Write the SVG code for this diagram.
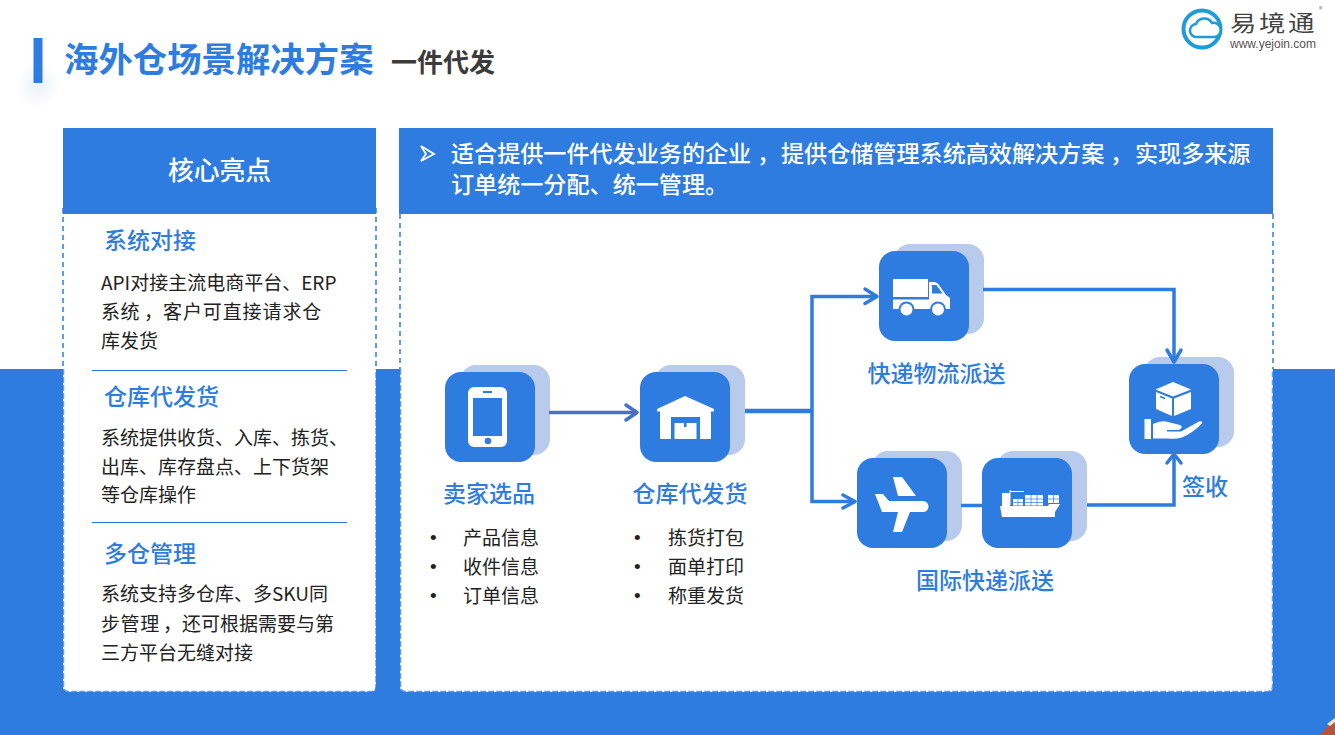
<svg xmlns="http://www.w3.org/2000/svg" width="1335" height="735" viewBox="0 0 1335 735">
<defs>
<style>
text{font-family:"Noto Sans CJK SC","Noto Sans",sans-serif}
.b{fill:#2e7ce0}
.bk{fill:#b8cbec}
.w{fill:#fff}
.h{font-size:23px;font-weight:500;fill:#2e7ce0}
.t{font-size:19px;fill:#222}
.bu{font-size:19px;fill:#222;font-family:"Liberation Sans",sans-serif}
.hd{font-size:23.1px;fill:#fff;font-weight:500}
.cn{fill:none;stroke:#2e7ce0;stroke-width:3.5;stroke-linejoin:miter}
.ah{fill:none;stroke:#2e7ce0;stroke-width:3.5;stroke-linecap:round;stroke-linejoin:round}
.dash{fill:none;stroke:#2e7ce0;stroke-width:1.5;stroke-dasharray:5 4}
.wd{fill:none;stroke:#2e7ce0;stroke-width:1.5;stroke-dasharray:6 2;opacity:.75}
.gl{stroke:#2e7ce0;stroke-width:.7;fill:none}
</style>
<g id="tile"><rect x="15" y="-7" width="90" height="90" rx="16" class="bk"/><rect width="90" height="90" rx="16" class="b"/></g>
<radialGradient id="gl"><stop offset="0" stop-color="#eef1fa"/><stop offset="1" stop-color="#fff"/></radialGradient>
</defs>
<rect width="1335" height="735" fill="#fff"/>
<rect y="369" width="1335" height="366" class="b"/>
<g id="title">
<ellipse cx="38" cy="85" rx="22" ry="24" fill="url(#gl)"/>
<rect x="33.500" y="38" width="9" height="45" class="b"/>
<text x="64" y="71.500" font-size="34.400" font-weight="700" style="fill:#2e7ce0">海外仓场景解决方案</text>
<text x="391" y="72" font-size="26" font-weight="700" fill="#3b3b3b">一件代发</text>
</g>
<g id="logo">
<circle cx="1202" cy="29" r="18.500" fill="none" stroke="#1f9bd7" stroke-width="4"/>
<path d="M1197 37a6.500 6.500 0 0 1-1-13 9 9 0 0 1 16-1 7 7 0 0 1 3 14z" fill="#fff" stroke="#1f9bd7" stroke-width="2.500"/>
<text transform="translate(1230 31) scale(1.2 1)" font-size="22" letter-spacing="2.200" fill="#444">易境通</text>
<text x="1230" y="48" font-size="12" fill="#555" style="font-family:'Liberation Sans',sans-serif">www.yejoin.com</text>
<text x="1319" y="12" font-size="7" fill="#666">®</text>
</g>
<g id="left-panel">
<rect x="63" y="205" width="313" height="487" rx="5" class="w"/>
<path d="M63 208V369M376 208V369" class="dash"/>
<path d="M63.500 369V686q0 5.500 5 5.500H371q5 0 5-5.500V369" class="wd"/>
<rect x="63" y="128" width="313" height="86" class="b"/>
<text x="219.500" y="179.500" text-anchor="middle" class="hd" style="font-size:25.800px">核心亮点</text>
<text x="104" y="249" class="h">系统对接</text>
<text x="101" y="290" class="t">API对接主流电商平台、ERP</text>
<text x="101" y="319" class="t"><tspan letter-spacing=".5">系统</tspan><tspan x="144">，</tspan><tspan x="163" letter-spacing=".9">客户可直接请求仓</tspan></text>
<text x="101" y="348" class="t">库发货</text>
<path d="M92 370.500H347" stroke="#2e7ce0" stroke-width="1.200"/>
<text x="104" y="404.500" class="h">仓库代发货</text>
<text x="101" y="445" class="t">系统提供收货、入库、拣货、</text>
<text x="101" y="474" class="t">出库、库存盘点、上下货架</text>
<text x="101" y="502" class="t">等仓库操作</text>
<path d="M92 522.500H347" stroke="#2e7ce0" stroke-width="1.200"/>
<text x="104" y="561.500" class="h">多仓管理</text>
<text x="101" y="601" class="t">系统支持多仓库、多SKU同</text>
<text x="101" y="631" class="t"><tspan letter-spacing=".6">步管理</tspan><tspan x="163">，</tspan><tspan x="182">还可根据需要与第</tspan></text>
<text x="101" y="660" class="t">三方平台无缝对接</text>
</g>
<g id="right-panel">
<rect x="400" y="205" width="873" height="487" rx="5" class="w"/>
<path d="M400 214V369M1273 214V369" class="dash"/>
<path d="M400.500 369V686q0 5.500 5 5.500H1267q5.500 0 5.500-5.500V369" class="wd"/>
<rect x="399" y="128" width="874" height="86" class="b"/>
<path d="M421 146l13 8-13 7 5-7z" fill="#2e7ce0" stroke="#fff" stroke-width="1.800"/>
<text x="451" y="161.500" class="hd">适合提供一件代发业务的企业<tspan x="757">，</tspan><tspan x="781">提供仓储管理系统高效解决方案</tspan><tspan x="1110">，</tspan><tspan x="1135">实现多来源</tspan></text>
<text x="451" y="193" class="hd">订单统一分配、统一管理。</text>
</g>
<g id="seller">
<use href="#tile" x="445" y="372"/>
<rect x="468" y="387" width="39" height="60" rx="6" class="w"/>
<rect x="473" y="398" width="29" height="38" class="b"/>
<rect x="483" y="391" width="9" height="2" class="b"/>
<circle cx="488" cy="441" r="3.300" class="b"/>
<text x="489" y="502" text-anchor="middle" class="h">卖家选品</text>
<text x="430" y="544" class="bu">•</text><text x="463" y="544.500" class="t">产品信息</text>
<text x="430" y="573" class="bu">•</text><text x="463" y="573.500" class="t">收件信息</text>
<text x="430" y="602" class="bu">•</text><text x="463" y="602.500" class="t">订单信息</text>
</g>
<g id="warehouse">
<use href="#tile" x="640" y="372"/>
<path d="M685 396l29 13v2.500h-3V439H660V411.500h-3V409z" class="w"/>
<rect x="671" y="417" width="29" height="22" class="b"/>
<rect x="674.500" y="423" width="22" height="16" class="w"/>
<rect x="684" y="423" width="2.500" height="4" class="b"/>
<text x="690" y="502" text-anchor="middle" class="h">仓库代发货</text>
<text x="634" y="544" class="bu">•</text><text x="668" y="544.500" class="t">拣货打包</text>
<text x="634" y="573" class="bu">•</text><text x="668" y="573.500" class="t">面单打印</text>
<text x="634" y="602" class="bu">•</text><text x="668" y="602.500" class="t">称重发货</text>
</g>
<g id="express">
<use href="#tile" x="879" y="251"/>
<rect x="893" y="279" width="35" height="18" class="w"/>
<path d="M893 299.500H929V282h5q3 0 5 3l7 10 4 3v11H893z" class="w"/>
<path d="M932 285h4.500l6 8.500H932z" class="b"/>
<circle cx="906.500" cy="309.500" r="8" class="b"/><circle cx="938" cy="309.500" r="8" class="b"/>
<circle cx="906.500" cy="309.500" r="6" class="w"/><circle cx="938" cy="309.500" r="6" class="w"/>
<text x="936.500" y="381.500" text-anchor="middle" class="h">快递物流派送</text>
</g>
<g id="air">
<use href="#tile" x="857" y="458"/>
<path d="M875 494h8l6 7h34a5.500 5.500 0 0 1 0 11H910l-8 20h-9l5-20H882z" class="w"/>
<path d="M893 477h9l14 19H898z" class="w"/>
</g>
<g id="ship">
<use href="#tile" x="982" y="458"/>
<path d="M1000 506h48l1-2h11l-5 8v5h-53z" class="w"/>
<path d="M1002 493h8v13h-8zM1013 499h10v6.500h-10zM1025 495h18v10.500h-18zM1048 495h11v8h-11z" class="w"/>
<path d="M1025 499h18M1025 502.500h18M1031 495v11M1037 495v11M1018 499v7M1048 499h11M1053.500 495v8M1013 502.500h10" class="gl"/>
<path d="M1010 491.500h14M1010 490v15" stroke="#fff" stroke-width="1" fill="none"/>
<text x="985" y="589" text-anchor="middle" class="h">国际快递派送</text>
</g>
<g id="receive">
<use href="#tile" x="1129" y="364"/>
<path d="M1173 382l18 7.500-18 7-17.500-7z" class="w"/>
<path d="M1156 392l16 6.500V416l-16-7zM1191 392l-17 6.500V416l17-7z" class="w"/>
<path d="M1160 396.500l5 2" stroke="#2e7ce0" stroke-width="1.500"/>
<rect x="1144.500" y="419" width="6.500" height="20" class="w"/>
<path d="M1153 424q8-4 15-2l12 3q4 2-1 5h-12v1.500h14l18-10q4-1 3 2-10 10-20 14-8 2-14 1h-15z" class="w"/>
<text x="1205" y="495" text-anchor="middle" class="h">签收</text>
</g>
<g id="connectors">
<path d="M549 412.500H637" class="cn" style="stroke:#4472c4"/>
<path d="M626 405l11 7.500-11 7.500" class="ah" style="stroke:#4472c4"/>
<path d="M745 411H811" class="cn" style="stroke-width:4.500"/>
<path d="M812 411V296.500H877" class="cn"/>
<path d="M865 289l12 7.500-12 7" class="ah"/>
<path d="M812 411V501.500H855" class="cn"/>
<path d="M843 495l12 6.500-12 6.500" class="ah"/>
<path d="M983 289.500H1174V362" class="cn"/>
<path d="M1167 350l7 12 7-12" class="ah"/>
<path d="M961 505.500H982" class="cn"/>
<path d="M1087 505H1174V455" class="cn"/>
<path d="M1167 463l7-9 7 9" class="ah"/>
</g>
<g id="corner"><path d="M1320 735l13-15 2-2v17z" fill="#b5533c"/><path d="M1327 724l8-6v4l-5 4z" fill="#f3e3cf"/></g>
</svg>
